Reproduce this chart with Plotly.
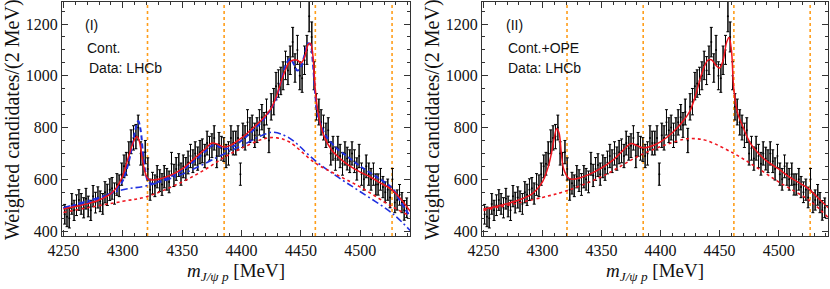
import plotly.graph_objects as go

# ---------------- data ----------------
mass_start = 4251
mass_step = 2
counts = [465, 455, 450, 505, 480, 500, 520, 505, 490, 525,
          495, 480, 535, 510, 530, 515, 505, 550, 540, 560,
          565, 545, 580, 575, 620, 650, 660, 700, 745, 760,
          765, 800, 700, 660, 705, 640, 560, 585, 575, 610,
          595, 580, 610, 600, 590, 660, 615, 640, 655, 620,
          650, 640, 665, 690, 670, 700, 680, 705, 710, 690,
          740, 720, 730, 760, 690, 735, 720, 715, 690, 700,
          760, 740, 740, 760, 620, 770, 760, 820, 790, 800,
          770, 790, 820, 840, 810, 860, 750, 880, 900, 960,
          970, 980, 1000, 1040, 1020, 1060, 1130, 1030, 1100, 1000,
          990, 1060, 1100, 1230, 1150, 1000, 880, 860, 820, 800,
          770, 790, 700, 720, 680, 720, 690, 660, 700, 680,
          670, 700, 670, 640, 690, 620, 600, 650, 620, 600,
          620, 580, 580, 600, 570, 550, 560, 530, 600, 510,
          520, 540, 510, 480, 490]
errors = [38, 38, 38, 40, 39, 40, 40, 40, 39, 40,
          40, 39, 41, 40, 41, 40, 40, 41, 41, 42,
          42, 41, 42, 42, 43, 44, 44, 45, 46, 47,
          47, 48, 45, 44, 45, 43, 41, 42, 42, 43,
          42, 42, 43, 42, 42, 44, 43, 44, 44, 43,
          44, 44, 44, 45, 44, 45, 45, 45, 46, 45,
          46, 46, 46, 47, 45, 46, 46, 46, 45, 45,
          47, 46, 46, 47, 43, 47, 47, 49, 48, 48,
          47, 48, 49, 49, 48, 50, 47, 51, 51, 53,
          53, 53, 54, 55, 54, 55, 57, 55, 56, 54,
          54, 55, 56, 60, 58, 54, 51, 50, 49, 48,
          47, 48, 45, 46, 45, 46, 45, 44, 45, 44,
          44, 45, 44, 43, 45, 43, 42, 44, 43, 42,
          43, 41, 41, 42, 41, 40, 41, 40, 42, 39,
          39, 40, 39, 38, 38]
mass = [mass_start + mass_step * i for i in range(len(counts))]

thresholds = [4320.8, 4385.3, 4462.1, 4526.7]

# panel (I): Cont. fit
fit1_x = [4250, 4260, 4270, 4280, 4290, 4295, 4300, 4305, 4310, 4312, 4314, 4316, 4318, 4320,
          4322, 4325, 4330, 4340, 4350, 4360, 4370, 4375, 4380, 4385, 4390, 4400, 4410, 4420,
          4425, 4430, 4435, 4440, 4443, 4447, 4450, 4453, 4456, 4458, 4460, 4462, 4464, 4467,
          4470, 4476, 4483, 4490, 4500, 4508, 4516, 4525, 4533, 4542]
fit1_y = [485, 495, 505, 520, 545, 570, 615, 690, 755, 765, 745, 690, 640, 610,
          600, 597, 600, 615, 640, 680, 720, 740, 735, 725, 730, 760, 800, 845,
          875, 930, 1000, 1050, 1060, 1060, 1050, 1070, 1120, 1125, 1080, 950, 870, 800,
          760, 712, 680, 655, 628, 610, 588, 565, 530, 476]
bg1_x = [4250, 4270, 4300, 4320, 4350, 4370, 4386, 4400, 4420, 4430, 4440, 4462, 4480, 4500,
         4527, 4542]
bg1_y = [472, 490, 515, 533, 590, 640, 687, 720, 758, 760, 745, 663, 618, 570,
         494, 458]
blue1_x = [4250, 4260, 4270, 4280, 4290, 4296, 4300, 4304, 4308, 4311, 4313, 4315, 4317, 4319,
           4321, 4324, 4330, 4340, 4350, 4360, 4370, 4375, 4380, 4386, 4392, 4400, 4410, 4420,
           4428, 4434, 4438, 4441, 4444, 4447, 4450, 4453, 4456, 4458, 4460, 4462, 4464, 4467,
           4470, 4480, 4490, 4500, 4510, 4520, 4527, 4533, 4542]
blue1_y = [488, 500, 510, 525, 545, 570, 595, 650, 730, 800, 825, 790, 700, 630,
           595, 583, 590, 610, 635, 670, 710, 730, 728, 718, 725, 750, 790, 840,
           900, 990, 1050, 1065, 1045, 1020, 1035, 1080, 1125, 1120, 1050, 930, 850, 810,
           775, 720, 685, 650, 620, 590, 565, 520, 455]
bluebg1_x = [4250, 4280, 4300, 4320, 4350, 4386, 4400, 4420, 4427, 4440, 4462, 4480, 4500,
             4527, 4542]
bluebg1_y = [490, 530, 560, 575, 620, 700, 730, 775, 782, 760, 672, 612, 552,
             468, 402]

# panel (II): Cont.+OPE fit
fit2_x = [4250, 4265, 4280, 4290, 4295, 4300, 4305, 4308, 4310, 4312, 4314, 4316, 4318, 4322,
          4325, 4340, 4360, 4370, 4375, 4380, 4385, 4390, 4400, 4410, 4420, 4425, 4430, 4435,
          4440, 4443, 4447, 4450, 4453, 4456, 4458, 4460, 4462, 4465, 4470, 4476, 4483, 4490,
          4500, 4508, 4516, 4525, 4533, 4542]
fit2_y = [485, 500, 520, 540, 560, 590, 650, 710, 760, 795, 780, 700, 640, 605,
          600, 620, 675, 720, 738, 730, 722, 725, 745, 780, 830, 865, 930, 1010,
          1060, 1062, 1040, 1030, 1060, 1130, 1148, 1100, 950, 860, 800, 740, 700, 670,
          640, 612, 590, 565, 530, 490]
bg2_x = [4250, 4300, 4320, 4350, 4386, 4420, 4430, 4440, 4462, 4480, 4500, 4527, 4542]
bg2_y = [480, 530, 555, 610, 700, 755, 757, 748, 700, 650, 590, 515, 452]

x_range = [4248.8, 4541.8]
y_range = [381, 1285]

# ---------------- figure ----------------
fig = go.Figure()

ORANGE = "#FF9E1B"
RED = "#F0141E"
BLUE = "#1F2FE0"


def add_panel(xa, ya):
    for t in thresholds:
        fig.add_trace(go.Scatter(x=[t, t], y=y_range, mode="lines", xaxis=xa, yaxis=ya,
                                 line=dict(color=ORANGE, width=1.6, dash="dot"),
                                 hoverinfo="skip", showlegend=False))
    # gray boxes behind error bars
    fig.add_trace(go.Bar(x=mass, y=[2 * e for e in errors],
                         base=[c - e for c, e in zip(counts, errors)],
                         width=1.5, marker=dict(color="rgba(95,95,95,0.72)", line=dict(width=0)),
                         xaxis=xa, yaxis=ya, showlegend=False, hoverinfo="skip"))
    fig.add_trace(go.Scatter(x=mass, y=counts, mode="markers", xaxis=xa, yaxis=ya,
                             marker=dict(color="black", size=2),
                             error_y=dict(type="data", array=errors, visible=True,
                                          color="black", thickness=1, width=1.5),
                             showlegend=False))


add_panel("x", "y")
add_panel("x2", "y2")

# panel I curves
fig.add_trace(go.Scatter(x=bluebg1_x, y=bluebg1_y, mode="lines",
                         line=dict(color=BLUE, width=1.6, dash="7px,3px,2px,3px", shape="spline"),
                         xaxis="x", yaxis="y", showlegend=False))
fig.add_trace(go.Scatter(x=bg1_x, y=bg1_y, mode="lines", line=dict(color=RED, width=1.6, dash="dot", shape="spline"),
                         xaxis="x", yaxis="y", showlegend=False))
fig.add_trace(go.Scatter(x=blue1_x, y=blue1_y, mode="lines", line=dict(color=BLUE, width=2, dash="5px,3px", shape="spline"),
                         xaxis="x", yaxis="y", showlegend=False))
fig.add_trace(go.Scatter(x=fit1_x, y=fit1_y, mode="lines", line=dict(color=RED, width=1.5, shape="spline"),
                         xaxis="x", yaxis="y", showlegend=False))
# panel II curves
fig.add_trace(go.Scatter(x=bg2_x, y=bg2_y, mode="lines", line=dict(color=RED, width=1.6, dash="dot", shape="spline"),
                         xaxis="x2", yaxis="y2", showlegend=False))
fig.add_trace(go.Scatter(x=fit2_x, y=fit2_y, mode="lines", line=dict(color=RED, width=1.5, shape="spline"),
                         xaxis="x2", yaxis="y2", showlegend=False))

serif = "Liberation Serif, Times New Roman, serif"
sans = "Liberation Sans, Arial, sans-serif"

xcommon = dict(range=x_range, showgrid=False, zeroline=False, showline=True, linecolor="#333",
               linewidth=1, mirror="allticks", ticks="inside", ticklen=6, tickcolor="#333",
               tickvals=[4250, 4300, 4350, 4400, 4450, 4500],
               minor=dict(dtick=10, tick0=4250, ticks="inside", ticklen=3, tickcolor="#333"),
               tickfont=dict(family=serif, size=16, color="#111"))
ycommon = dict(range=y_range, showgrid=False, zeroline=False, showline=True, linecolor="#333",
               linewidth=1, mirror="allticks", ticks="inside", ticklen=6, tickcolor="#333",
               tickvals=[400, 600, 800, 1000, 1200],
               minor=dict(dtick=50, tick0=400, ticks="inside", ticklen=3, tickcolor="#333"),
               tickfont=dict(family=serif, size=16, color="#111"))

fig.update_layout(
    width=830, height=289,
    margin=dict(l=62, r=2, t=2, b=53),
    paper_bgcolor="white", plot_bgcolor="white",
    bargap=0,
    xaxis=dict(domain=[0, 0.4543], anchor="y", **xcommon),
    yaxis=dict(domain=[0, 1], anchor="x", **ycommon),
    xaxis2=dict(domain=[0.5483, 1.0], anchor="y2", **xcommon),
    yaxis2=dict(domain=[0, 1], anchor="x2", **ycommon),
)

ann = []
for xp in [-0.0653, 0.483]:
    ann.append(dict(text="Weighted candidates/(2 MeV)", x=xp, y=0.5, xref="paper", yref="paper",
                    textangle=-90, showarrow=False, xanchor="center", yanchor="middle",
                    font=dict(family=serif, size=20, color="#111")))
for xp in [0.2272, 0.7742]:
    ann.append(dict(text="<i>m</i><sub><i>J/ψ p</i></sub> [MeV]", x=xp, y=-0.155, xref="paper", yref="paper",
                    showarrow=False, xanchor="center", yanchor="middle",
                    font=dict(family=serif, size=19, color="#111")))

labels = [("x", "(I)", 4266.5, 1196), ("x", "Cont.", 4268, 1108), ("x", "Data: LHCb", 4269.5, 1030),
          ("x2", "(II)", 4267.4, 1196), ("x2", "Cont.+OPE", 4268.8, 1108), ("x2", "Data: LHCb", 4268.8, 1030)]
for xa, txt, xv, yv in labels:
    ann.append(dict(text=txt, x=xv, y=yv, xref=xa, yref="y" if xa == "x" else "y2",
                    showarrow=False, xanchor="left", yanchor="middle",
                    font=dict(family=sans, size=14, color="#111")))
fig.update_layout(annotations=ann)

fig.write_html("out.html", config={"displayModeBar": False},
               post_script="document.body.style.margin='0';")
